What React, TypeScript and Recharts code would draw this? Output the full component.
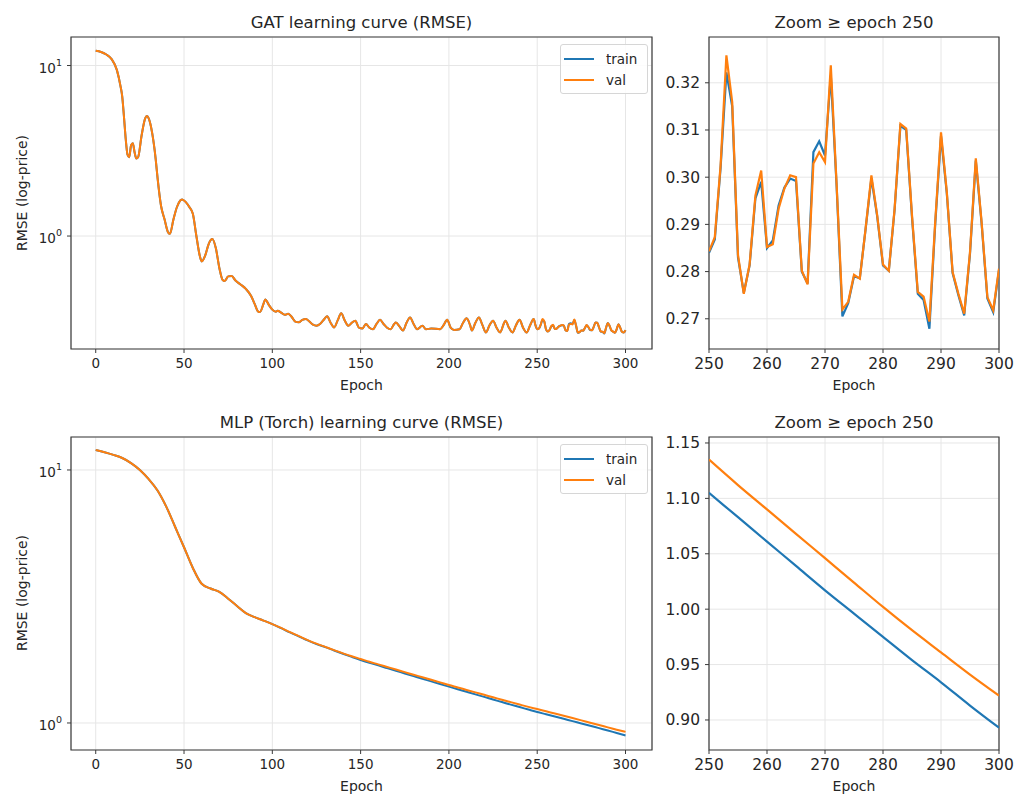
import React from 'react';
import {
  LineChart,
  Line,
  XAxis,
  YAxis,
  CartesianGrid,
  Legend,
  ReferenceArea,
} from 'recharts';

// GAT, epochs 0-249 (train and val overlap there)
const gatEarlyEpochs = [
  0, 3, 6, 9, 12, 14, 15, 16, 17, 18, 19, 20, 21, 22, 23, 24, 26, 28, 29, 30,
  32, 34, 35, 37, 39, 41, 42, 44, 46, 48, 49, 51, 53, 55, 57, 59, 60, 62, 64, 66,
  68, 70, 72, 73, 75, 77, 79, 82, 85, 88, 90, 92, 93, 95, 96, 98, 100, 102, 103, 105,
  107, 109, 111, 113, 115, 117, 119, 121, 123, 125, 127, 129, 131, 133, 135, 137, 139, 141, 143, 145,
  147, 149, 151, 153, 155, 157, 159, 161, 163, 165, 167, 169, 170, 172, 174, 176, 178, 180, 182, 185,
  187, 190, 195, 197, 199, 201, 203, 206, 208, 210, 212, 213, 215, 217, 219, 221, 223, 225, 227, 229,
  231, 232, 234, 236, 238, 240, 242, 244, 246, 248, 249,
];
const gatEarlyRmse = [
  12.2, 12.0, 11.6, 10.9, 9.4, 7.6, 6.6, 5.0, 3.7, 3.0, 2.9, 3.4, 3.5, 3.1, 2.85, 2.9, 3.9, 4.9, 5.05, 4.9,
  4.0, 2.8, 2.2, 1.5, 1.25, 1.05, 1.03, 1.25, 1.48, 1.62, 1.64, 1.58, 1.48, 1.35, 1.0, 0.76, 0.71, 0.77, 0.9, 0.96,
  0.85, 0.65, 0.55, 0.545, 0.58, 0.583, 0.55, 0.52, 0.49, 0.445, 0.4, 0.36, 0.358, 0.4, 0.425, 0.395, 0.37, 0.36, 0.365, 0.355,
  0.345, 0.35, 0.335, 0.315, 0.312, 0.322, 0.326, 0.315, 0.302, 0.298, 0.305, 0.322, 0.338, 0.31, 0.291, 0.32, 0.352, 0.32, 0.298, 0.31,
  0.319, 0.29, 0.287, 0.305, 0.29, 0.284, 0.305, 0.323, 0.305, 0.29, 0.284, 0.305, 0.311, 0.295, 0.279, 0.31, 0.333, 0.305, 0.284, 0.298,
  0.284, 0.287, 0.284, 0.3, 0.323, 0.29, 0.281, 0.284, 0.31, 0.329, 0.3, 0.279, 0.31, 0.333, 0.3, 0.272, 0.3, 0.319, 0.29, 0.272,
  0.305, 0.319, 0.29, 0.272, 0.3, 0.323, 0.29, 0.272, 0.3, 0.326, 0.3,
];

// GAT, epochs 250-300 (one value per epoch)
const gatZoomEpochs = Array.from({ length: 51 }, (_, i) => 250 + i);
const gatZoomTrain = [
  0.284, 0.2868, 0.302, 0.3222, 0.315, 0.283, 0.2755, 0.2813, 0.2955, 0.299,
  0.285, 0.2866, 0.294, 0.2978, 0.2997, 0.2992, 0.28, 0.2775, 0.3053, 0.3076,
  0.3046, 0.3216, 0.2982, 0.2705, 0.2733, 0.279, 0.2786, 0.289, 0.2998, 0.2917,
  0.2813, 0.2802, 0.2931, 0.3109, 0.31, 0.2915, 0.2753, 0.274, 0.2679, 0.29,
  0.3087, 0.2966, 0.2797, 0.275, 0.2707, 0.2838, 0.3035, 0.2902, 0.2743, 0.2714,
  0.2803,
];
const gatZoomVal = [
  0.2843, 0.2873, 0.3025, 0.3258, 0.3159, 0.2835, 0.2753, 0.2815, 0.2961, 0.3014,
  0.2852, 0.2858, 0.2933, 0.2976, 0.3004, 0.3, 0.2802, 0.2773, 0.3029, 0.3053,
  0.3032, 0.3237, 0.2985, 0.272, 0.2736, 0.2793, 0.2785, 0.2891, 0.3004, 0.2919,
  0.2815, 0.2802, 0.2933, 0.3113, 0.3103, 0.2919, 0.2757, 0.2747, 0.2694, 0.2905,
  0.3095, 0.2969, 0.2799, 0.2753, 0.2711, 0.2841, 0.304, 0.2905, 0.2746, 0.2718,
  0.2806,
];

// MLP, every 5 epochs
const mlpEpochs = Array.from({ length: 61 }, (_, i) => i * 5);
const mlpTrain = [
  12.0, 11.75, 11.47, 11.15, 10.65, 10.0, 9.2, 8.3, 7.15, 5.95,
  4.95, 4.1, 3.55, 3.4, 3.3, 3.1, 2.9, 2.72, 2.62, 2.54,
  2.46, 2.37, 2.28, 2.2, 2.12, 2.05, 1.995, 1.935, 1.878, 1.825,
  1.775, 1.73, 1.69, 1.648, 1.608, 1.57, 1.532, 1.495, 1.46, 1.425,
  1.392, 1.36, 1.328, 1.297, 1.268, 1.238, 1.21, 1.182, 1.156, 1.13,
  1.105, 1.083, 1.061, 1.039, 1.017, 0.996, 0.975, 0.954, 0.934, 0.913,
  0.893,
];
const mlpVal = [
  12.0, 11.75, 11.47, 11.15, 10.65, 10.0, 9.2, 8.3, 7.15, 5.95,
  4.95, 4.1, 3.55, 3.4, 3.3, 3.1, 2.9, 2.72, 2.62, 2.54,
  2.46, 2.375, 2.285, 2.205, 2.127, 2.058, 1.998, 1.94, 1.885, 1.835,
  1.79, 1.745, 1.705, 1.665, 1.626, 1.589, 1.551, 1.516, 1.481, 1.447,
  1.413, 1.382, 1.351, 1.321, 1.292, 1.263, 1.236, 1.209, 1.183, 1.158,
  1.135, 1.112, 1.09, 1.068, 1.046, 1.024, 1.002, 0.981, 0.961, 0.941,
  0.922,
];

const fullTicks = [0, 50, 100, 150, 200, 250, 300];
const zoomTicks = [250, 260, 270, 280, 290, 300];
const logTicks = [1, 10];
const gatZoomYTicks = [0.27, 0.28, 0.29, 0.3, 0.31, 0.32];
const mlpZoomYTicks = [0.9, 0.95, 1.0, 1.05, 1.1, 1.15];

const FONT = '"DejaVu Sans", sans-serif';
const BLUE = '#1f77b4';
const ORANGE = '#ff7f0e';
const INK = '#262626';
const SPINE = '#3a3a3a';
const GRID = '#e6e6e6';

const gatRows = [
  ...gatEarlyEpochs.map((e, i) => ({ epoch: e, train: gatEarlyRmse[i], val: gatEarlyRmse[i] })),
  ...gatZoomEpochs.map((e, i) => ({ epoch: e, train: gatZoomTrain[i], val: gatZoomVal[i] })),
];
const gatZoomRows = gatZoomEpochs.map((e, i) => ({ epoch: e, train: gatZoomTrain[i], val: gatZoomVal[i] }));
const mlpRows = mlpEpochs.map((e, i) => ({ epoch: e, train: mlpTrain[i], val: mlpVal[i] }));
const mlpZoomRows = mlpRows.filter(r => r.epoch >= 250);

const PowTick = (props: any) => {
  const { x, y, payload } = props;
  const exp = Math.round(Math.log10(payload.value));
  return (
    <text x={x} y={y + 2} textAnchor="end" dominantBaseline="central" fill={INK} fontFamily={FONT} fontSize={13.5}>
      <tspan>10</tspan>
      <tspan dy={-6} fontSize={9.5}>{exp}</tspan>
    </text>
  );
};

const LegendBox = (props: any) => {
  const items = props.payload || [];
  return (
    <div
      style={{
        border: '1px solid #d6d6d6',
        borderRadius: 3,
        background: 'rgba(255,255,255,0.85)',
        padding: '3px 10px 3px 3px',
        fontFamily: FONT,
        fontSize: 13.5,
        color: INK,
      }}
    >
      {items.map((p: any) => (
        <div key={p.value} style={{ display: 'flex', alignItems: 'center', height: 21 }}>
          <span style={{ display: 'inline-block', width: 30, height: 2, background: p.color, marginRight: 12 }} />
          {p.value}
        </div>
      ))}
    </div>
  );
};

const Label = ({ x, y, text, size = 14, rotate = false }: any) => (
  <div
    style={{
      position: 'absolute',
      left: x,
      top: y,
      transform: `translate(-50%, -50%)${rotate ? ' rotate(-90deg)' : ''}`,
      whiteSpace: 'nowrap',
      fontFamily: FONT,
      fontSize: size,
      lineHeight: 1.2,
      color: INK,
    }}
  >
    {text}
  </div>
);

const axisCommon = {
  axisLine: false,
  tickLine: { stroke: SPINE },
  tickSize: 4,
  tickMargin: 5,
};

const FullPanel = ({ rows, logDomain, top, height, bottomH }: any) => (
  <div style={{ position: 'absolute', left: 0, top }}>
    <LineChart width={670} height={height} data={rows} margin={{ top: 37, right: 18, bottom: 0, left: 0 }}>
      <CartesianGrid stroke={GRID} />
      <XAxis
        type="number"
        dataKey="epoch"
        domain={[-14, 315]}
        ticks={fullTicks}
        allowDataOverflow
        height={bottomH}
        tick={{ fill: INK, fontSize: 13.5, fontFamily: FONT }}
        {...axisCommon}
      />
      <YAxis
        type="number"
        scale="log"
        domain={logDomain}
        ticks={logTicks}
        allowDataOverflow
        width={71}
        tick={<PowTick />}
        {...axisCommon}
      />
      <ReferenceArea x1={-14} x2={315} y1={logDomain[0]} y2={logDomain[1]} fill="none" stroke={SPINE} strokeWidth={1.2} />
      <Legend
        layout="vertical"
        align="center"
        verticalAlign="middle"
        wrapperStyle={{ left: 560, top: 44, width: 'auto' }}
        content={<LegendBox />}
      />
      <Line type="monotone" dataKey="train" name="train" stroke={BLUE} strokeWidth={2} dot={false} isAnimationActive={false} />
      <Line type="monotone" dataKey="val" name="val" stroke={ORANGE} strokeWidth={2} dot={false} isAnimationActive={false} />
    </LineChart>
  </div>
);

const ZoomPanel = ({ rows, yDomain, yTicks, top, height, bottomH, curve }: any) => (
  <div style={{ position: 'absolute', left: 660, top }}>
    <LineChart width={354} height={height} data={rows} margin={{ top: 37, right: 15, bottom: 0, left: 0 }}>
      <CartesianGrid stroke={GRID} />
      <XAxis
        type="number"
        dataKey="epoch"
        domain={[250, 300]}
        ticks={zoomTicks}
        allowDataOverflow
        height={bottomH}
        tick={{ fill: INK, fontSize: 15.5, fontFamily: FONT }}
        {...axisCommon}
      />
      <YAxis
        type="number"
        domain={yDomain}
        ticks={yTicks}
        allowDataOverflow
        width={49}
        tickFormatter={(v: number) => v.toFixed(2)}
        tick={{ fill: INK, fontSize: 15.5, fontFamily: FONT }}
        {...axisCommon}
      />
      <ReferenceArea x1={250} x2={300} y1={yDomain[0]} y2={yDomain[1]} fill="none" stroke={SPINE} strokeWidth={1.2} />
      <Line type={curve} dataKey="train" stroke={BLUE} strokeWidth={2.2} dot={false} isAnimationActive={false} />
      <Line type={curve} dataKey="val" stroke={ORANGE} strokeWidth={2.2} dot={false} isAnimationActive={false} />
    </LineChart>
  </div>
);

export default function App() {
  return (
    <div style={{ position: 'absolute', left: 0, top: 0, width: 1014, height: 794, overflow: 'hidden', background: '#fff' }}>
      <FullPanel rows={gatRows} logDomain={[0.2175, 14.7]} top={0} height={400} bottomH={51} />
      <ZoomPanel rows={gatZoomRows} yDomain={[0.2636, 0.3297]} yTicks={gatZoomYTicks} top={0} height={400} bottomH={51} curve="linear" />
      <FullPanel rows={mlpRows} logDomain={[0.782, 13.5]} top={400} height={390} bottomH={40} />
      <ZoomPanel rows={mlpZoomRows} yDomain={[0.8729, 1.1554]} yTicks={mlpZoomYTicks} top={400} height={390} bottomH={40} curve="monotone" />

      <Label x={361.5} y={22.7} text="GAT learning curve (RMSE)" size={16.5} />
      <Label x={854} y={22.7} text="Zoom ≥ epoch 250" size={16.5} />
      <Label x={361.5} y={422.7} text="MLP (Torch) learning curve (RMSE)" size={16.5} />
      <Label x={854} y={422.7} text="Zoom ≥ epoch 250" size={16.5} />

      <Label x={361.5} y={385} text="Epoch" />
      <Label x={854} y={385} text="Epoch" />
      <Label x={361.5} y={786} text="Epoch" />
      <Label x={854} y={786} text="Epoch" />

      <Label x={22} y={193} text="RMSE (log-price)" rotate />
      <Label x={22} y={593} text="RMSE (log-price)" rotate />
    </div>
  );
}
